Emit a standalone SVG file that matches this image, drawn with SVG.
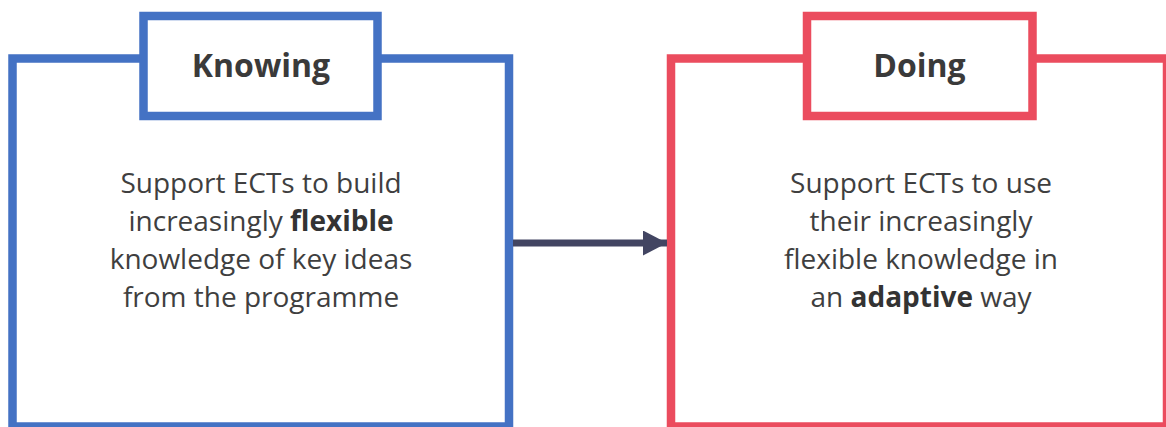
<svg xmlns="http://www.w3.org/2000/svg" width="1166" height="427" viewBox="0 0 1166 427">
<defs>
<style>
.blue{fill:#fff;stroke:#4472C4;stroke-width:8.5}
.red{fill:#fff;stroke:#EB4C5E;stroke-width:8.5}
.title{font-family:"Open Sans","Liberation Sans",sans-serif;font-weight:bold;font-size:32px;fill:#3A3A3A;text-anchor:middle}
.body{font-family:"Open Sans","Liberation Sans",sans-serif;font-size:28px;fill:#3F3F3F;text-anchor:middle}
.b{font-weight:bold;fill:#333}
</style>
<marker id="ah" markerUnits="userSpaceOnUse" markerWidth="26" markerHeight="26" refX="24" refY="12.5" orient="auto" viewBox="0 0 26 26">
<path d="M0,0 L24,12.5 L0,25 Z" fill="#424562"/>
</marker>
</defs>
<rect width="1166" height="427" fill="#fff"/>
<g id="knowing">
<rect class="blue" x="12.5" y="58.5" width="496.5" height="368"/>
<rect class="blue" x="143.5" y="16" width="234" height="100"/>
<text class="title" x="261" y="77">Knowing</text>
<text class="body" x="261" y="193">Support ECTs to build</text>
<text class="body" x="261" y="231">increasingly <tspan class="b">flexible</tspan></text>
<text class="body" x="261" y="269">knowledge of key ideas</text>
<text class="body" x="261" y="307">from the programme</text>
</g>
<g id="doing">
<rect class="red" x="671" y="58.5" width="496" height="368"/>
<rect class="red" x="807" y="16" width="225.5" height="100"/>
<text class="title" x="919.5" y="77">Doing</text>
<text class="body" x="921" y="193">Support ECTs to use</text>
<text class="body" x="921" y="231">their increasingly</text>
<text class="body" x="921" y="269">flexible knowledge in</text>
<text class="body" x="921" y="307">an <tspan class="b">adaptive</tspan> way</text>
</g>
<g id="connectors">
<line x1="513" y1="243" x2="667" y2="243" stroke="#424562" stroke-width="7" marker-end="url(#ah)"/>
</g>
</svg>
